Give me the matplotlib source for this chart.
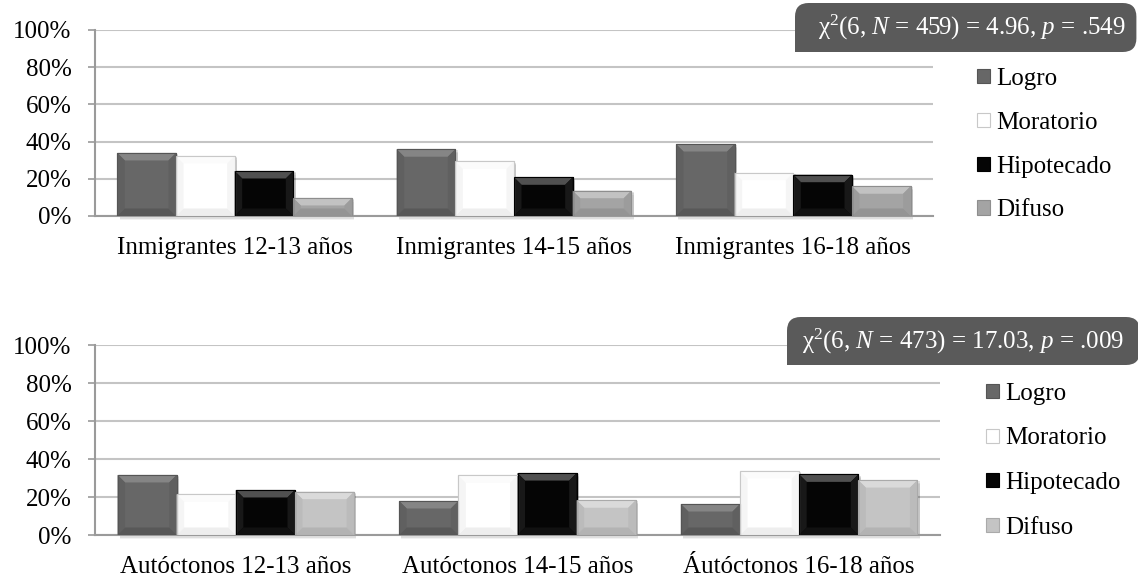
import numpy as np
import matplotlib
matplotlib.use('Agg')
import matplotlib.pyplot as plt
from matplotlib.patches import Polygon, Rectangle, FancyBboxPatch, Patch

plt.rcParams['font.family'] = ['Liberation Serif', 'DejaVu Serif']
plt.rcParams['mathtext.fontset'] = 'custom'
plt.rcParams['mathtext.rm'] = 'Liberation Serif'
plt.rcParams['mathtext.it'] = 'Liberation Serif:italic'

#---------- data (% per identity status)
series = ['Logro', 'Moratorio', 'Hipotecado', 'Difuso']

cats_inm = ['Inmigrantes 12-13 años', 'Inmigrantes 14-15 años', 'Inmigrantes 16-18 años']
logro_inm = [33.9, 35.9, 38.7]
morat_inm = [32.3, 29.4, 23.3]
hipot_inm = [24.2, 20.8, 22.2]
difus_inm = [9.7, 13.6, 16.0]
chi_inm = r'χ$^2$(6, $N$ = 459) = 4.96, $p$ = .549'

cats_aut = ['Autóctonos 12-13 años', 'Autóctonos 14-15 años', 'Áutóctonos 16-18 años']
logro_aut = [31.6, 17.9, 16.3]
morat_aut = [21.4, 31.4, 33.7]
hipot_aut = [23.7, 32.6, 31.9]
difus_aut = [22.8, 18.3, 28.9]
chi_aut = r'χ$^2$(6, $N$ = 473) = 17.03, $p$ = .009'

yticks = [0, 20, 40, 60, 80, 100]

# face, top bevel, side bevel, bottom bevel, edge
sty_logro = ('#676767', '#858585', '#606060', '#585858', '#555555')
sty_morat = ('#ffffff', '#fbfbfb', '#f5f5f5', '#eeeeee', '#c8c8c8')
sty_hipot = ('#050505', '#505050', '#181818', '#111111', '#000000')
sty_dif_top = ('#a4a4a4', '#c2c2c2', '#9c9c9c', '#949494', '#8e8e8e')
sty_dif_bot = ('#c4c4c4', '#dadada', '#bbbbbb', '#b3b3b3', '#aaaaaa')

W, H, DPI = 11.38, 5.83, 100
fig = plt.figure(figsize=(W, H), dpi=DPI)

bw = 0.21
bev_px = 7.5
fs = 18


def bevel_bars(ax, x, vals, sty):
    face, top, side, bot, edge = sty
    pos = ax.get_position()
    px_x = pos.width * W * DPI / 3.0      # pixels per category unit
    px_y = pos.height * H * DPI / 100.0   # pixels per percent
    bars = ax.bar(x, vals, width=bw, color=face, edgecolor=edge, linewidth=0.8, zorder=3)
    for b in bars:
        x0, w, h = b.get_x(), b.get_width(), b.get_height()
        dx = bev_px / px_x
        dy = min(bev_px / px_y, h / 2.0)
        # soft shadow under the bar
        for k, a in [(4, 0.05), (2.5, 0.08), (1.2, 0.11)]:
            ax.add_patch(Rectangle((x0 + 0.3 * dx, -k / px_y), w, h, facecolor='k',
                                   alpha=a, linewidth=0, zorder=2, clip_on=False))
        ax.add_patch(Polygon([(x0, h), (x0 + w, h), (x0 + w - dx, h - dy), (x0 + dx, h - dy)],
                             closed=True, facecolor=top, edgecolor='none', zorder=4))
        ax.add_patch(Polygon([(x0, 0), (x0 + dx, dy), (x0 + dx, h - dy), (x0, h)],
                             closed=True, facecolor=side, edgecolor='none', zorder=4))
        ax.add_patch(Polygon([(x0 + w, 0), (x0 + w - dx, dy), (x0 + w - dx, h - dy), (x0 + w, h)],
                             closed=True, facecolor=side, edgecolor='none', zorder=4))
        ax.add_patch(Polygon([(x0, 0), (x0 + w, 0), (x0 + w - dx, dy), (x0 + dx, dy)],
                             closed=True, facecolor=bot, edgecolor='none', zorder=4))
        ax.add_patch(Rectangle((x0, 0), w, h, facecolor='none', edgecolor=edge,
                               linewidth=0.8, zorder=5))
    return bars


def panel(rect, cats, data, styles, chi, box_rect, leg_anchor, spacing):
    ax = fig.add_axes(rect)
    x = np.arange(len(cats))
    offs = (np.arange(4) - 1.5) * bw
    for vals, off, sty in zip(data, offs, styles):
        bevel_bars(ax, x + off, vals, sty)
    ax.set_xlim(-0.5, 2.5)
    ax.set_ylim(0, 100)
    ax.set_yticks(yticks)
    ax.set_yticklabels(['%d%%' % v for v in yticks], fontsize=fs)
    ax.set_xticks(x)
    ax.set_xticklabels(cats, fontsize=fs)
    ax.tick_params(axis='x', length=0, pad=15)
    ax.tick_params(axis='y', length=5, width=1.2, color='#9a9a9a', direction='out', pad=12)
    ax.grid(axis='y', color='#c4c4c4', linewidth=1.5, zorder=0)
    ax.set_axisbelow(True)
    for s in ['top', 'right']:
        ax.spines[s].set_visible(False)
    for s in ['left', 'bottom']:
        ax.spines[s].set_color('#9a9a9a')
        ax.spines[s].set_linewidth(1.5)

    # statistic box
    bx, by, bwd, bht = box_rect
    fig.patches.append(FancyBboxPatch((bx, by), bwd, bht, boxstyle='round,pad=0,rounding_size=0.012',
                                      transform=fig.transFigure, facecolor='#5a5a5a',
                                      edgecolor='none', mutation_aspect=W / H, zorder=6))
    fig.patches.append(Rectangle((bx, by), 0.03, bht * 0.5, transform=fig.transFigure,
                                 facecolor='#5a5a5a', edgecolor='none', zorder=6))
    fig.text(bx + 0.155, by + bht / 2, chi, color='white', fontsize=fs,
             ha='center', va='center', zorder=7)

    handles = [Patch(facecolor=s[0], edgecolor=s[4], linewidth=0.8) for s in styles]
    fig.legend(handles, series, loc='upper left', bbox_to_anchor=leg_anchor, frameon=False,
               fontsize=fs, handlelength=0.5, handleheight=0.5, handletextpad=0.25,
               labelspacing=spacing, borderaxespad=0, borderpad=0)
    return ax


panel([95 / 1138, 1 - 216 / 583, 838 / 1138, 186 / 583], cats_inm,
      [logro_inm, morat_inm, hipot_inm, difus_inm],
      [sty_logro, sty_morat, sty_hipot, sty_dif_top], chi_inm,
      (795 / 1138, 1 - 52 / 583, 0.3, 49 / 583), (977 / 1138, 1 - 68 / 583), 0.87)

panel([95 / 1138, 1 - 535 / 583, 845 / 1138, 190 / 583], cats_aut,
      [logro_aut, morat_aut, hipot_aut, difus_aut],
      [sty_logro, sty_morat, sty_hipot, sty_dif_bot], chi_aut,
      (787 / 1138, 1 - 365 / 583, 0.31, 48 / 583), (986 / 1138, 1 - 383 / 583), 0.9)

plt.savefig('out.png', dpi=DPI)
